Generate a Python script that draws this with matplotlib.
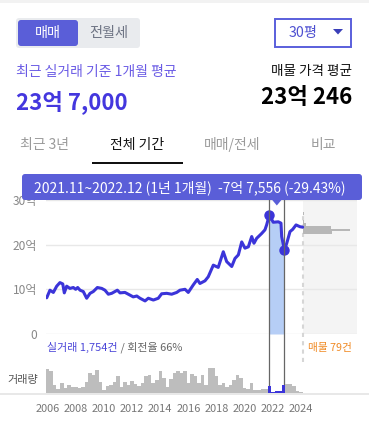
"""Apartment price history card: real-deal price line, listings and volume."""

import matplotlib

matplotlib.use("Agg")

import matplotlib.pyplot as plt
import numpy as np
import pandas as pd
from matplotlib.patches import FancyBboxPatch, Polygon, Rectangle

plt.rcParams["font.family"] = ["Noto Sans CJK KR", "DejaVu Sans"]

# ---- data -------------------------------------------------------------
# real-deal price (억 원), decimal year
price_years = [
    2005.93, 2006.16, 2006.40, 2006.64, 2006.87, 2007.07, 2007.18, 2007.35,
    2007.58, 2007.82, 2007.99, 2008.13, 2008.30, 2008.53, 2008.77, 2009.01,
    2009.24, 2009.53, 2009.84, 2010.07, 2010.31, 2010.55, 2010.95, 2011.14,
    2011.49, 2011.73, 2012.08, 2012.33, 2012.56, 2012.92, 2013.15, 2013.51,
    2013.86, 2014.10, 2014.46, 2014.81, 2015.17, 2015.40, 2015.76, 2015.99,
    2016.35, 2016.63, 2016.82, 2017.18, 2017.41, 2017.77, 2018.12, 2018.48,
    2018.72, 2019.08, 2019.31, 2019.55, 2019.79, 2020.02, 2020.26, 2020.50,
    2020.66, 2020.85, 2021.21, 2021.44, 2021.56, 2021.75, 2022.03, 2022.39,
    2022.58, 2022.63, 2022.82, 2022.99, 2023.22, 2023.41, 2023.65, 2023.93,
    2024.12,
]
price_values = [
    8.1, 9.8, 9.3, 10.7, 11.5, 11.2, 9.2, 10.7,
    10.2, 10.4, 10.0, 10.4, 9.8, 9.5, 8.0, 9.1,
    9.5, 10.4, 10.2, 9.8, 8.9, 9.1, 9.8, 9.2,
    9.3, 8.9, 8.3, 8.5, 8.0, 7.4, 8.0, 7.6,
    8.0, 9.0, 9.1, 8.9, 9.3, 9.8, 10.0, 9.3,
    11.0, 12.2, 11.3, 11.9, 12.8, 15.4, 14.9, 18.4,
    16.2, 15.1, 16.9, 17.7, 20.6, 19.2, 19.5, 21.8,
    20.3, 21.4, 22.5, 23.3, 24.4, 26.6, 25.0, 25.1,
    24.8, 21.8, 18.84, 20.3, 22.9, 23.4, 24.4, 24.0,
    23.9,
]
peak_idx = 61
trough_idx = 66

today = 2024.15

# listing prices (억 원) and listing counts
listing_bins = [26.9, 25.1, 24.5, 23.9, 23.3, 22.7]
listing_counts = [1, 1, 2, 20, 34, 21]

# quarterly transaction volume from 2006Q1
volume_counts = [
    24, 22, 8, 4, 10, 5, 8, 6, 6, 5, 6, 11, 20, 18, 23, 11, 3, 7, 8, 11,
    17, 6, 11, 8, 12, 9, 7, 10, 17, 18, 10, 13, 22, 15, 6, 14, 20, 22,
    20, 22, 10, 19, 17, 10, 18, 8, 25, 25, 17, 8, 10, 6, 8, 13, 18, 15,
    5, 4, 10, 3, 3, 4, 4, 7, 1, 2, 2, 8, 9, 9, 7, 2, 1,
]
volume_quarters = pd.period_range("2006Q1", periods=len(volume_counts), freq="Q")

year_ticks = list(range(2006, 2025, 2))
y_ticks = [0, 10, 20, 30]
y_tick_labels = ["0", "10억", "20억", "30억"]

tabs = ["최근 3년", "전체 기간", "매매/전세", "비교"]

# ---- colours ----------------------------------------------------------
BLUE = "#3b34d9"
PURPLE_BTN = "#5a5ed8"
SEL_FILL = "#b6cef6"
GRAY_TXT = "#888888"

W, H = 369, 432
fig = plt.figure(figsize=(W / 100, H / 100), dpi=100)
fig.patch.set_facecolor("white")


def px_rect(left, top, right, bottom):
    """Axes rect in figure fractions from pixel edges."""
    return [left / W, 1 - bottom / H, (right - left) / W, (bottom - top) / H]


x_lo = 2006 + (46 - 47.7) / 14.07
x_hi = 2006 + (357 - 47.7) / 14.07

# ---- main price chart -------------------------------------------------
ax = fig.add_axes(px_rect(46, 196, 357, 334))
ax.set_xlim(x_lo, x_hi)
ax.set_ylim(0, 138 / 4.47)
ax.patch.set_visible(False)
for s in ax.spines.values():
    s.set_visible(False)
ax.set_xticks([])
ax.set_yticks(y_ticks)
ax.set_yticklabels(y_tick_labels)
ax.tick_params(axis="y", length=0, pad=6.5, labelsize=8.6, labelcolor=GRAY_TXT)

ax.axvspan(today, x_hi, color="#f4f4f4", zorder=0, lw=0)
for v in y_ticks:
    ax.axhline(v, color="#e8e8e8", lw=1, zorder=1)

ax.fill_between(
    price_years[peak_idx:trough_idx + 1],
    price_values[peak_idx:trough_idx + 1],
    color=SEL_FILL, lw=0, zorder=2,
)
ax.plot(price_years, price_values, color=BLUE, lw=2.2, zorder=4,
        solid_joinstyle="round", solid_capstyle="round")
ax.plot([price_years[peak_idx], price_years[trough_idx]],
        [price_values[peak_idx], price_values[trough_idx]],
        "o", ms=6.5, color=BLUE, zorder=5)

# listings histogram, drawn sideways from today
per_count = 1.382 / 14.07
ax.barh(listing_bins, np.array(listing_counts) * per_count, left=today,
        height=0.6, color="#b7b7b7", lw=0, zorder=3)

ax_h = 138
for yr in (price_years[peak_idx], price_years[trough_idx]):
    ax.axvline(yr, ymin=-(393 - 334) / ax_h, ymax=(334 - 200) / ax_h,
               color="#666666", lw=0.9, clip_on=False, zorder=6)
ax.axvline(today, ymin=-(362 - 334) / ax_h, ymax=(334 - 213) / ax_h,
           color="#d6d6d6", lw=1.5, ls=(0, (2, 2)), clip_on=False, zorder=1)

# ---- volume -----------------------------------------------------------
vax = fig.add_axes(px_rect(46, 366, 357, 393))
vax.set_xlim(x_lo, x_hi)
vax.set_ylim(0, 27)
vax.patch.set_visible(False)
for s in vax.spines.values():
    s.set_visible(False)
vol_x = np.array([p.start_time.year + (p.quarter - 1) / 4 for p in volume_quarters])
sel = (vol_x >= price_years[peak_idx]) & (vol_x <= price_years[trough_idx])
vax.bar(vol_x, volume_counts, width=0.25, color=np.where(sel, BLUE, "#bdbdbd"),
        lw=0)
vax.set_yticks([])
vax.set_xticks(year_ticks)
vax.set_xticklabels([str(y) for y in year_ticks])
vax.tick_params(axis="x", length=0, pad=8, labelsize=7.9, labelcolor="#777777")

# ---- overlay: header, tabs, tooltip ----------------------------------
ov = fig.add_axes([0, 0, 1, 1], zorder=10)
ov.set_xlim(0, W)
ov.set_ylim(H, 0)
ov.axis("off")
ov.patch.set_visible(False)

ov.add_patch(Rectangle((0, 0), W, 3, color="#f2f2f2", lw=0))

# toggle
ov.add_patch(FancyBboxPatch((16, 18), 124, 30, boxstyle="round,pad=0,rounding_size=3",
                            fc="#e9ebee", ec="none"))
ov.add_patch(FancyBboxPatch((18, 20), 60, 26, boxstyle="round,pad=0,rounding_size=3",
                            fc=PURPLE_BTN, ec="none"))
ov.text(48, 33, "매매", color="white", fontsize=10.2, ha="center", va="center")
ov.text(109, 33, "전월세", color="#6d7383", fontsize=10.2, ha="center", va="center")

# size dropdown
ov.add_patch(Rectangle((275, 19), 76, 28, fc="white", ec="#5a5fdc", lw=1.4))
ov.text(303, 33.5, "30평", color="#4d4fd1", fontsize=10.2, ha="center", va="center")
ov.add_patch(Polygon([(333, 29), (343, 29), (338, 34.5)], closed=True,
                     fc="#3a3fb8", ec="none"))

# headline numbers
ov.text(16, 72, "최근 실거래 기준 1개월 평균", color="#6a5be5", fontsize=10,
        ha="left", va="center")
ov.text(16, 102, "23억 7,000", color="#4437de", fontsize=16, fontweight="bold",
        ha="left", va="center")
ov.text(352, 71, "매물 가격 평균", color="#111111", fontsize=9.8,
        ha="right", va="center")
ov.text(352, 97, "23억 246", color="#000000", fontsize=16, fontweight="bold",
        ha="right", va="center")

# tabs
tab_x = [44, 137, 232, 323]
for i, (tx, label) in enumerate(zip(tab_x, tabs)):
    active = i == 1
    ov.text(tx, 145, label, color="#111111" if active else "#9a9a9a",
            fontsize=10, ha="center", va="center")
ov.add_patch(Rectangle((92, 162), 91, 2, color="#111111", lw=0))

# tooltip, pointer centred between the two selection lines
to_px = ax.transData.transform
mid_px = (to_px((price_years[peak_idx], 0))[0] + to_px((price_years[trough_idx], 0))[0]) / 2
ov.add_patch(FancyBboxPatch((22, 174), 340, 26, boxstyle="round,pad=0,rounding_size=3",
                            fc=PURPLE_BTN, ec="none"))
ov.add_patch(Polygon([(mid_px - 5, 199.5), (mid_px + 5, 199.5), (mid_px, 205.5)],
                     closed=True, fc=PURPLE_BTN, ec="none"))
ov.text(190, 187.5, "2021.11~2022.12 (1년 1개월)  -7억 7,556 (-29.43%)",
        color="white", fontsize=10, ha="center", va="center")

# footnotes under the chart
t1 = ov.text(47, 347.5, "실거래 1,754건", color="#4a45d8", fontsize=7.9,
             ha="left", va="center")
ov.annotate(" / 회전율 66%", xy=(1, 0.5), xycoords=t1, color="#666666",
            fontsize=7.9, ha="left", va="center")
ov.text(308, 347.5, "매물 79건", color="#f08a24", fontsize=7.7,
        ha="left", va="center")
ov.text(7, 380, "거래량", color="#555555", fontsize=8, ha="left", va="center")

# volume baseline across the card
ov.add_patch(Rectangle((0, 393), W, 2, color="#e8e8e8", lw=0))

fig.savefig("out.png", dpi=100)
